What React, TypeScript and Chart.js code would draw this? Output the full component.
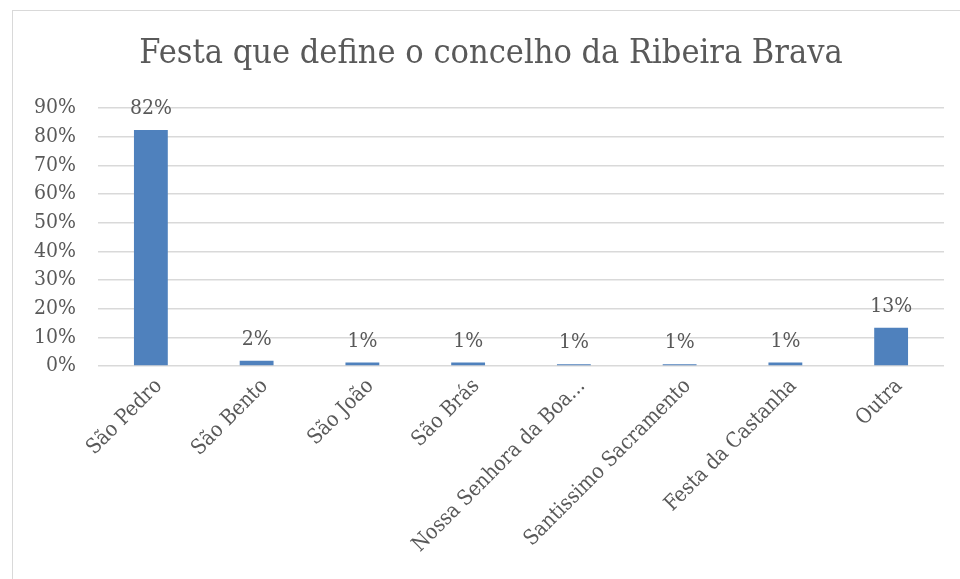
import React, { useEffect, useRef } from "react";
import { Chart, registerables } from "chart.js";

Chart.register(...registerables);

const title = "Festa que define o concelho da Ribeira Brava";
const categories = [
  "São Pedro",
  "São Bento",
  "São João",
  "São Brás",
  "Nossa Senhora da Boa...",
  "Santissimo Sacramento",
  "Festa da Castanha",
  "Outra",
];
const values = [82.3, 1.8, 1.2, 1.2, 0.6, 0.6, 1.2, 13.3];
const valueLabels = ["82%", "2%", "1%", "1%", "1%", "1%", "1%", "13%"];
const yTicks = [0, 10, 20, 30, 40, 50, 60, 70, 80, 90];

const FONT = "'DejaVu Serif Condensed', 'DejaVu Serif', serif";
const TEXT = "#595959";

const dataLabelPlugin = {
  id: "dataLabels",
  afterDatasetsDraw(chart: any) {
    const { ctx } = chart;
    const meta = chart.getDatasetMeta(0);
    ctx.save();
    ctx.font = `21px ${FONT}`;
    ctx.fillStyle = TEXT;
    ctx.textAlign = "center";
    ctx.textBaseline = "alphabetic";
    meta.data.forEach((bar: any, i: number) => {
      ctx.fillText(valueLabels[i], bar.x, bar.y - 16);
    });
    ctx.restore();
  },
};

const titlePlugin = {
  id: "centeredTitle",
  afterDraw(chart: any) {
    const { ctx } = chart;
    ctx.save();
    ctx.font = `34px ${FONT}`;
    ctx.fillStyle = TEXT;
    ctx.textAlign = "center";
    ctx.textBaseline = "middle";
    ctx.fillText(title, 478, 43);
    ctx.restore();
  },
};

export default function App() {
  const ref = useRef<HTMLCanvasElement>(null);
  useEffect(() => {
    if (!ref.current) return;
    const chart = new Chart(ref.current, {
      type: "bar",
      data: {
        labels: categories,
        datasets: [
          {
            data: values,
            backgroundColor: "#4f81bd",
            borderWidth: 0,
            barPercentage: 0.32,
            categoryPercentage: 1,
          },
        ],
      },
      options: {
        animation: false,
        responsive: false,
        maintainAspectRatio: false,
        layout: { padding: { left: 0, right: 19, top: 97, bottom: 0 } },
        plugins: {
          legend: { display: false },
          tooltip: { enabled: false },
          title: { display: false },
        },
        scales: {
          x: {
            grid: { display: false },
            border: { display: false },
            afterFit: (axis: any) => {
              axis.height = 210;
            },
            ticks: {
              color: TEXT,
              font: { family: FONT, size: 21 },
              minRotation: 45,
              maxRotation: 45,
              autoSkip: false,
              padding: 0,
              labelOffset: 8,
            },
          },
          y: {
            min: 0,
            max: 90,
            afterBuildTicks: (axis: any) => {
              axis.ticks = yTicks.map((v) => ({ value: v }));
            },
            afterFit: (axis: any) => {
              axis.width = 85;
            },
            grid: { color: "#d9d9d9", lineWidth: 1.5, drawTicks: false },
            border: { display: false },
            ticks: {
              color: TEXT,
              font: { family: FONT, size: 21 },
              padding: 22,
              callback: (v: any) => `${v}%`,
            },
          },
        },
      },
      plugins: [dataLabelPlugin, titlePlugin],
    });
    return () => chart.destroy();
  }, []);
  return (
    <div
      style={{
        position: "fixed",
        left: 0,
        top: 0,
        width: 960,
        height: 579,
        background: "#fff",
      }}
    >
      <div
        style={{
          position: "absolute",
          left: 12,
          top: 10,
          width: 960,
          height: 580,
          border: "1px solid #d9d9d9",
          boxSizing: "border-box",
        }}
      />
      <canvas
        ref={ref}
        width={950}
        height={565}
        style={{ position: "absolute", left: 13, top: 11 }}
      />
    </div>
  );
}
